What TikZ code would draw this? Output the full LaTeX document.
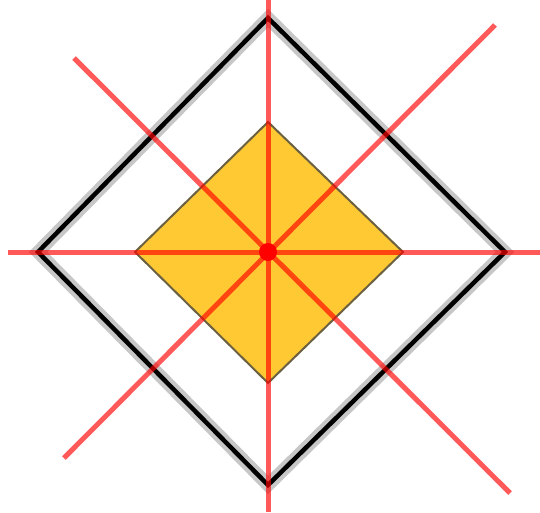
\documentclass[tikz,border=0pt]{standalone}
\usepackage{tikz}
\usetikzlibrary{calc}
\definecolor{goldfill}{HTML}{FFC933}
\definecolor{goldedge}{HTML}{6B6040}

\begin{document}
\begin{tikzpicture}[
  x=0.02cm, y=-0.02cm,
  outer/.style={draw=black, line width=0.09cm, line join=miter},
  halo/.style={draw=black!22, line width=0.26cm, line join=miter},
  inner/.style={draw=goldedge, line width=0.04cm, fill=goldfill},
  axis/.style={draw=red, line width=0.1cm, opacity=0.65}
]
  \useasboundingbox (0,0) rectangle (540,512);
  % corners
  \coordinate (c) at (268,252);
  \coordinate (ot) at (268,18);
  \coordinate (or) at (505,252);
  \coordinate (ob) at (268,485);
  \coordinate (ol) at (38,252);
  \coordinate (it) at (268,122);
  \coordinate (ir) at (403,252);
  \coordinate (ib) at (268,383);
  \coordinate (il) at (135,252);
  % line ends
  \coordinate (vt) at (268,0);
  \coordinate (vb) at (268,512);
  \coordinate (hl) at (8,252);
  \coordinate (hr) at (540,252);
  \coordinate (dtl) at (74,58);
  \coordinate (dbr) at (510,493);
  \coordinate (dtr) at (495,25);
  \coordinate (dbl) at (64,458);

  \draw[halo] (ot) -- (or) -- (ob) -- (ol) -- cycle;
  \draw[outer] (ot) -- (or) -- (ob) -- (ol) -- cycle;
  \draw[inner] (it) -- (ir) -- (ib) -- (il) -- cycle;

  \draw[axis] (vt) -- (vb);
  \draw[axis] (hl) -- (hr);
  \draw[axis] (dtl) -- (dbr);
  \draw[axis] (dtr) -- (dbl);
  \fill[red] (c) circle (9);
\end{tikzpicture}
\end{document}
